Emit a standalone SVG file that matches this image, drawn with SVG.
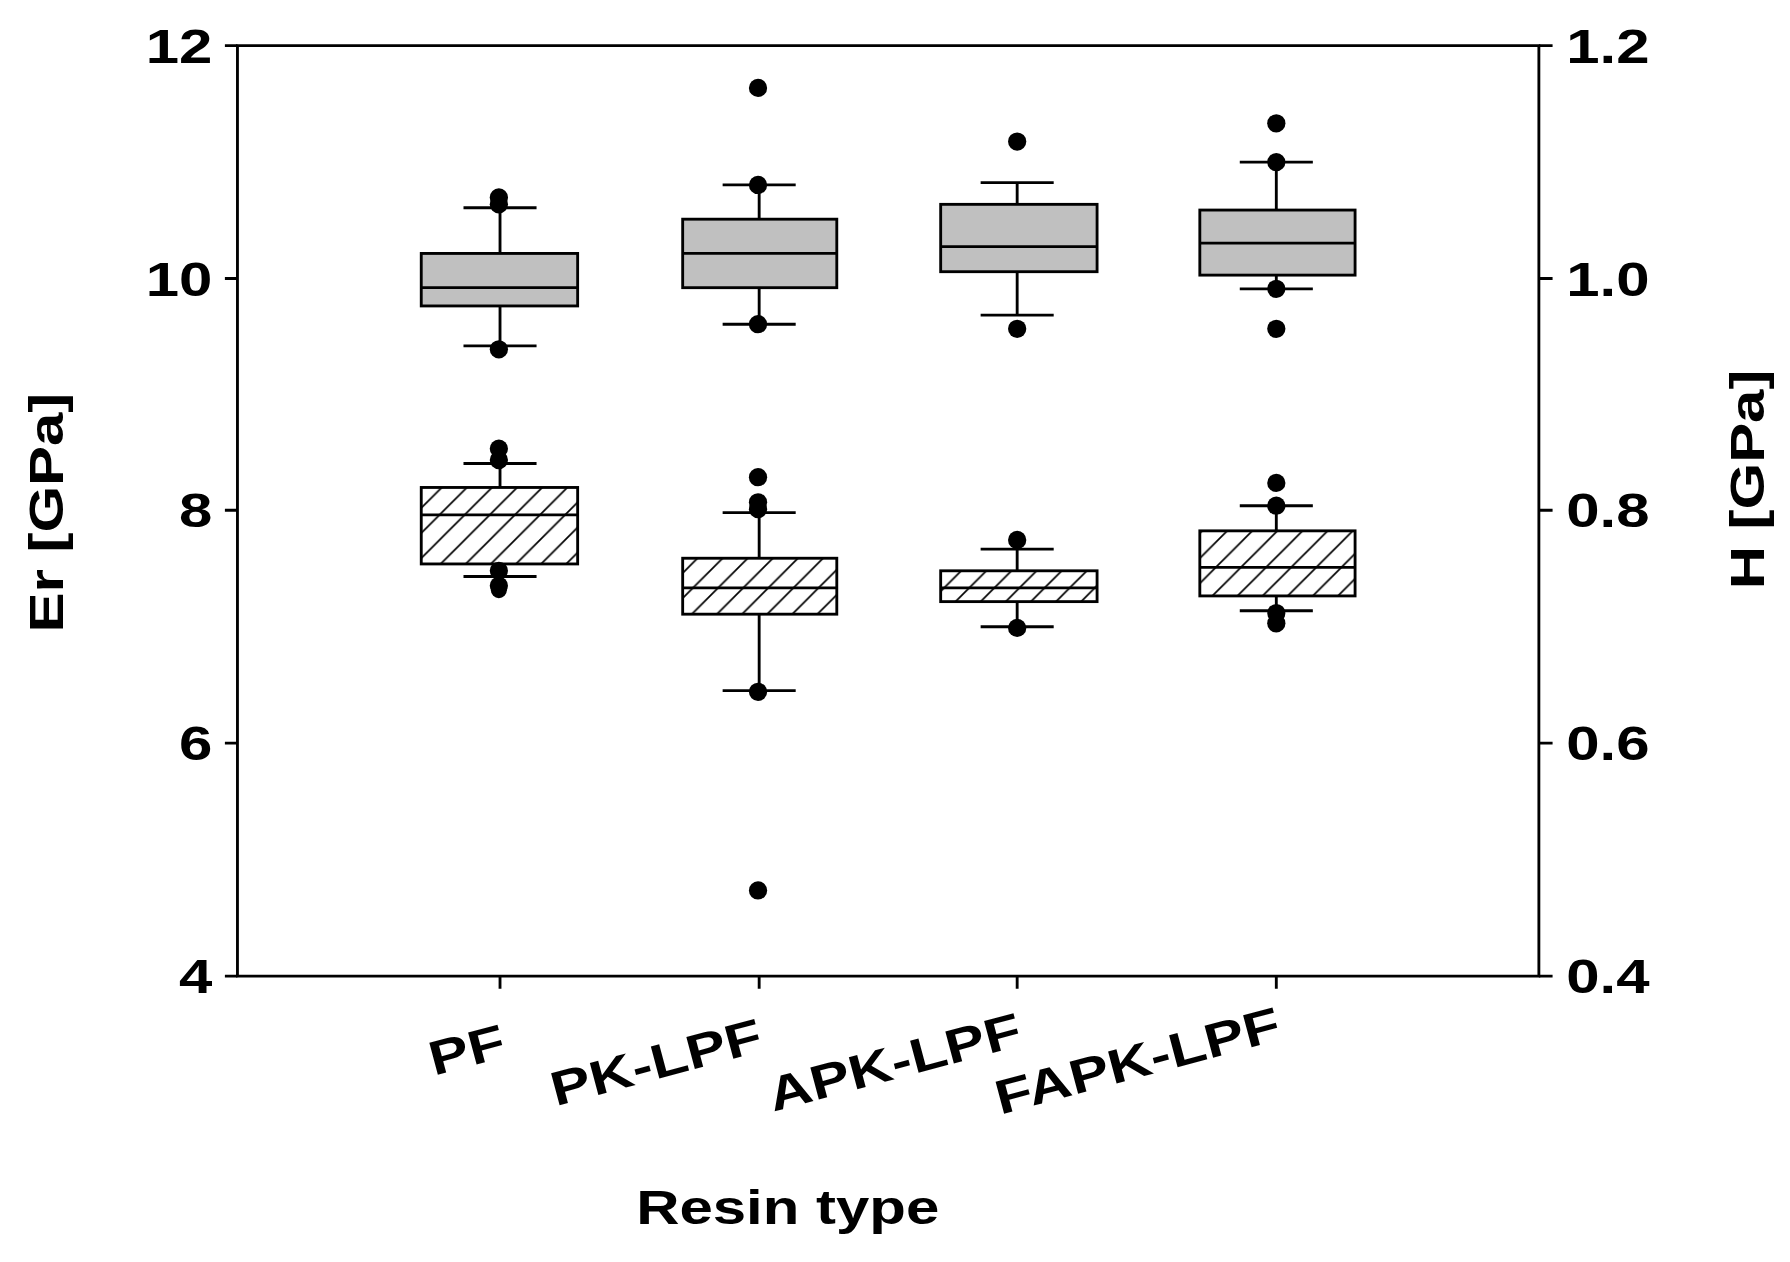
<svg xmlns="http://www.w3.org/2000/svg" width="1790" height="1262" viewBox="0 0 1790 1262">
<style>
.ax{stroke:#000;stroke-width:2.5;fill:none}
.ln{stroke:#000;stroke-width:2.5;fill:none}
.g{fill:#c0c0c0;stroke:#000;stroke-width:2.5}
.h{fill:url(#hat);stroke:#000;stroke-width:2.5}
.t{font-family:"Liberation Sans",Arial,sans-serif;font-weight:bold;font-size:42px;fill:#000}
circle{fill:#000}
</style>
<defs>
<pattern id="hat" patternUnits="userSpaceOnUse" width="22" height="22">
<rect width="22" height="22" fill="#fff"/>
<path d="M-5,27 L27,-5 M-16,16 L16,-16 M6,38 L38,6" stroke="#000" stroke-width="1.5"/>
</pattern>
</defs>
<rect width="1790" height="1262" fill="#fff"/>
<g transform="scale(1.1416)">
<g id="axes">
<path class="ax" d="M208,40 H1348 V855 H208 Z"/>
<path class="ax" d="M197,40H208M197,244H208M197,447H208M197,651H208M197,855H208"/>
<path class="ax" d="M1348,40H1360M1348,244H1360M1348,447H1360M1348,651H1360M1348,855H1360"/>
<path class="ax" d="M438,855V866M665,855V866M891,855V866M1118,855V866"/>
<g class="t" text-anchor="end">
<text transform="translate(186,55) scale(1.25,1)">12</text><text transform="translate(186,259) scale(1.25,1)">10</text><text transform="translate(186,462) scale(1.25,1)">8</text><text transform="translate(186,666) scale(1.25,1)">6</text><text transform="translate(186,870) scale(1.25,1)">4</text>
</g>
<g class="t">
<text transform="translate(1372,55) scale(1.25,1)">1.2</text><text transform="translate(1372,259) scale(1.25,1)">1.0</text><text transform="translate(1372,462) scale(1.25,1)">0.8</text><text transform="translate(1372,666) scale(1.25,1)">0.6</text><text transform="translate(1372,870) scale(1.25,1)">0.4</text>
</g>
<text class="t" transform="translate(55,449) rotate(-90) scale(1.25,1)" text-anchor="middle">Er [GPa]</text>
<text class="t" transform="translate(1545,420) rotate(-90) scale(1.25,1)" text-anchor="middle">H [GPa]</text>
<g class="t" text-anchor="end">
<text transform="translate(445,925) rotate(-15) scale(1.25,1)">PF</text>
<text transform="translate(670,920) rotate(-15) scale(1.25,1)">PK-LPF</text>
<text transform="translate(897,915) rotate(-15) scale(1.25,1)">APK-LPF</text>
<text transform="translate(1124,910) rotate(-15) scale(1.25,1)">FAPK-LPF</text>
</g>
<text class="t" transform="translate(690,1072) scale(1.25,1)" text-anchor="middle">Resin type</text>
</g>
<g id="gray">
<g id="pf-er"><path class="ln" d="M438,182V222M438,268V303M406,182H470M406,303H470"/><rect class="g" x="369" y="222" width="137" height="46"/><path class="ln" d="M369,252H506"/><circle cx="437" cy="173" r="8"/><circle cx="437" cy="179" r="8"/><circle cx="437" cy="306" r="8"/></g>
<g id="pk-er"><path class="ln" d="M665,162V192M665,252V284M633,162H697M633,284H697"/><rect class="g" x="598" y="192" width="135" height="60"/><path class="ln" d="M598,222H733"/><circle cx="664" cy="77" r="8"/><circle cx="664" cy="162" r="8"/><circle cx="664" cy="284" r="8"/></g>
<g id="apk-er"><path class="ln" d="M891,160V179M891,238V276M859,160H923M859,276H923"/><rect class="g" x="824" y="179" width="137" height="59"/><path class="ln" d="M824,216H961"/><circle cx="891" cy="124" r="8"/><circle cx="891" cy="288" r="8"/></g>
<g id="fapk-er"><path class="ln" d="M1118,142V184M1118,241V253M1086,142H1150M1086,253H1150"/><rect class="g" x="1051" y="184" width="136" height="57"/><path class="ln" d="M1051,213H1187"/><circle cx="1118" cy="108" r="8"/><circle cx="1118" cy="142" r="8"/><circle cx="1118" cy="253" r="8"/><circle cx="1118" cy="288" r="8"/></g>
</g>
<g id="hatched">
<g id="pf-h"><path class="ln" d="M438,406V427M438,494V505M406,406H470M406,505H470"/><rect class="h" x="369" y="427" width="137" height="67"/><path class="ln" d="M369,451H506"/><circle cx="437" cy="393" r="8"/><circle cx="437" cy="403" r="8"/><circle cx="437" cy="500" r="8"/><circle cx="437" cy="513" r="8"/><circle cx="437" cy="517" r="7"/></g>
<g id="pk-h"><path class="ln" d="M665,449V489M665,538V605M633,449H697M633,605H697"/><rect class="h" x="598" y="489" width="135" height="49"/><path class="ln" d="M598,515H733"/><circle cx="664" cy="418" r="8"/><circle cx="664" cy="440" r="8"/><circle cx="664" cy="446" r="8"/><circle cx="664" cy="606" r="8"/><circle cx="664" cy="780" r="8"/></g>
<g id="apk-h"><path class="ln" d="M891,481V500M891,527V549M859,481H923M859,549H923"/><rect class="h" x="824" y="500" width="137" height="27"/><path class="ln" d="M824,515H961"/><circle cx="891" cy="473" r="8"/><circle cx="891" cy="550" r="8"/></g>
<g id="fapk-h"><path class="ln" d="M1118,443V465M1118,522V535M1086,443H1150M1086,535H1150"/><rect class="h" x="1051" y="465" width="136" height="57"/><path class="ln" d="M1051,497H1187"/><circle cx="1118" cy="423" r="8"/><circle cx="1118" cy="443" r="8"/><circle cx="1118" cy="537" r="8"/><circle cx="1118" cy="546" r="8"/></g>
</g>
</g>
</svg>
